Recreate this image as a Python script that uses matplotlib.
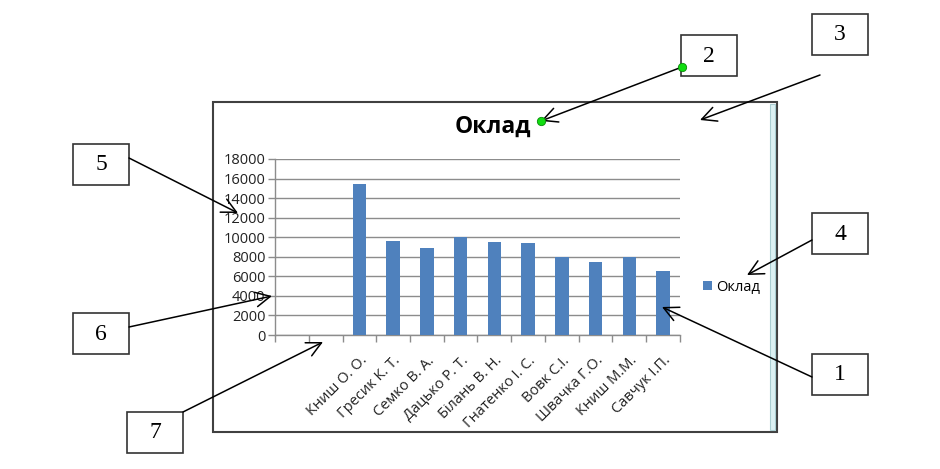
import matplotlib
matplotlib.use('Agg')
import matplotlib.pyplot as plt
import numpy as np
from matplotlib.patches import Rectangle

plt.rcParams['font.family'] = ['Open Sans', 'DejaVu Sans']

# Data
categories = ['', '', 'Книш О. О.', 'Гресик К. Т.', 'Семко В. А.', 'Дацько Р. Т.',
              'Білань В. Н.', 'Гнатенко І. С.', 'Вовк С.І.', 'Швачка Г.О.',
              'Книш М.М.', 'Савчук І.П.']
salary = [None, None, 15400, 9600, 8900, 10000, 9500, 9400, 8000, 7500, 8000, 6500]
yticks = [0, 2000, 4000, 6000, 8000, 10000, 12000, 14000, 16000, 18000]
series_name = 'Оклад'
chart_title = 'Оклад'

# callout labels: (text, box left, box top, arrow start, arrow end) in pixels
callouts = [
    ('1', 812, 354, (812, 377), (662, 307)),
    ('2', 681, 35, (682, 67), (541, 121)),
    ('3', 812, 14, (820, 75), (700, 120)),
    ('4', 812, 213, (812, 240), (747, 275)),
    ('5', 73, 144, (129, 158), (238, 213)),
    ('6', 73, 313, (129, 327), (272, 296)),
    ('7', 127, 412, (183, 412), (323, 342)),
]

W, H = 940, 469
fig = plt.figure(figsize=(W / 100, H / 100), dpi=100)

# bar chart area
ax = fig.add_axes([275 / W, 1 - 335 / H, 405 / W, 176 / H])
x = np.arange(len(categories))
vals = np.array([np.nan if v is None else v for v in salary], dtype=float)
ax.bar(x, vals, width=0.4, color='#4F81BD', label=series_name, zorder=3)
ax.set_xlim(-0.5, len(categories) - 0.5)
ax.set_ylim(0, 18000)
ax.set_yticks(yticks)
ax.set_yticklabels([str(t) for t in yticks], fontsize=10.5, color='#222222')
ax.set_xticks(x)
ax.set_xticklabels(categories, rotation=45, ha='right', rotation_mode='anchor',
                   fontsize=10.5, color='#222222')
ax.set_xticks(np.arange(-0.5, len(categories)), minor=True)
ax.tick_params(axis='x', which='major', length=0, pad=13)
ax.tick_params(axis='x', which='minor', length=5, color='#8c8c8c', width=1)
ax.tick_params(axis='y', length=5, color='#8c8c8c', width=1, pad=2)
ax.grid(True, axis='y', color='#8c8c8c', linewidth=1, zorder=0)
for s in ['top', 'right']:
    ax.spines[s].set_visible(False)
for s in ['left', 'bottom']:
    ax.spines[s].set_color('#8c8c8c')
    ax.spines[s].set_linewidth(1)

fig.legend(loc='center left', bbox_to_anchor=(690 / W, 1 - 287 / H), frameon=False,
           handlelength=0.6, handleheight=0.6, handletextpad=0.3, fontsize=10.5)

# overlay in pixel coordinates for frame and callouts
ov = fig.add_axes([0, 0, 1, 1], zorder=5)
ov.set_xlim(0, W)
ov.set_ylim(H, 0)
ov.axis('off')
ov.patch.set_alpha(0)

ov.add_patch(Rectangle((213, 102), 564, 330, fill=False, edgecolor='#404040', linewidth=1.5))
ov.add_patch(Rectangle((770, 104), 5, 326, facecolor='#dcf1f3', edgecolor='#a9cdd1', linewidth=0.8))
ov.text(493, 127, chart_title, ha='center', va='center', fontsize=16.5, fontweight='bold')

for label, bx, by, start, end in callouts:
    ov.add_patch(Rectangle((bx, by), 56, 41, facecolor='white', edgecolor='#333333', linewidth=1.2))
    ov.text(bx + 28, by + 21, label, ha='center', va='center', fontsize=17,
            family='Liberation Serif')
    ov.annotate('', xy=end, xytext=start,
                arrowprops=dict(arrowstyle='->,head_length=0.7,head_width=0.35',
                                color='black', lw=1.1, shrinkA=0, shrinkB=0,
                                mutation_scale=15))
    if label == '2':
        ov.plot([start[0], end[0]], [start[1], end[1]], 'o', ms=6,
                color='#11dd11', mec='#0a8a0a', mew=0.6, zorder=6)

fig.savefig('out.png', dpi=100)
